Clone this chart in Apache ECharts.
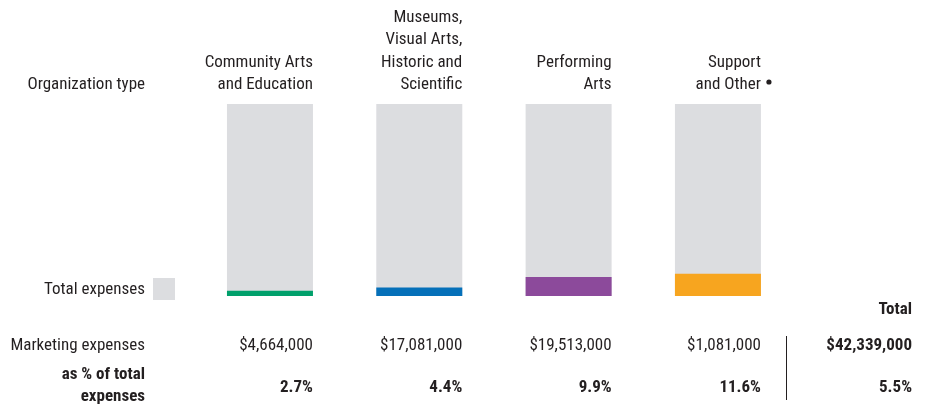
<!DOCTYPE html>
<html><head><meta charset="utf-8">
<script src="https://cdn.jsdelivr.net/npm/echarts@6/dist/echarts.min.js"></script>
<style>html,body{margin:0;padding:0;background:#fff}#c{width:929px;height:409px}</style>
</head><body><div id="c"></div>
<script>
const categories = ["Community Arts\nand Education", "Museums,\nVisual Arts,\nHistoric and\nScientific", "Performing\nArts", "Support\nand Other •"];
const totalShare = [100, 100, 100, 100];
const marketingPct = [2.7, 4.4, 9.9, 11.6];
const marketingExpenses = ["$4,664,000", "$17,081,000", "$19,513,000", "$1,081,000"];
const totalMarketing = "$42,339,000";
const totalPct = "5.5%";
const colors = ["#00a06b", "#0570b9", "#8c4a9b", "#f7a51f"];

const FONT = '"Liberation Sans Narrow", "Roboto Condensed", Roboto, sans-serif';
const FS = 17;
const TXT = '#231f20';
const chart = echarts.init(document.getElementById('c'));
const BW = 86;
chart.setOption({
  animation: false,
  grid: {left: 195.3, right: 136.4, top: 104, bottom: 113},
  xAxis: {type: 'category', data: categories, show: false},
  yAxis: {type: 'value', min: 0, max: 100, show: false},
  series: [
    {type: 'bar', data: totalShare, barWidth: BW, barGap: '-100%', itemStyle: {color: '#dcdde0'}},
    {type: 'bar', data: marketingPct.map((v, i) => ({value: v, itemStyle: {color: colors[i]}})), barWidth: BW}
  ]
});

const g = [];
const NF = FS + 'px ' + FONT, BF = 'bold ' + FS + 'px ' + FONT;
const txt = (x, y, s, opt) => g.push({type: 'text', x: x, y: y, style: Object.assign({text: s, font: NF, fill: TXT, textAlign: 'right', textVerticalAlign: 'middle'}, opt || {})});
const LX = 145;
txt(LX, 85, 'Organization type');
txt(LX, 290, 'Total expenses');
g.push({type: 'rect', shape: {x: 153, y: 278, width: 22, height: 22}, style: {fill: '#dcdde0'}});
txt(LX, 346, 'Marketing expenses');
txt(LX, 386, 'as % of total\nexpenses', {font: BF, lineHeight: 22});
categories.forEach((c, i) => {
  const p = chart.convertToPixel({seriesIndex: 0}, [i, 100]);
  const right = p[0] + BW / 2;
  let label = c;
  if (label.endsWith(' •')) {
    label = label.slice(0, -2);
    g.push({type: 'circle', shape: {cx: right + 8, cy: 82, r: 2.6}, style: {fill: TXT}});
  }
  txt(right, 96, label, {textVerticalAlign: 'bottom', lineHeight: 22.5});
  txt(right, 346, marketingExpenses[i]);
  txt(right, 388, marketingPct[i].toFixed(1) + '%', {font: BF});
});
const TX = 912;
txt(TX, 310, 'Total', {font: BF});
txt(TX, 346, totalMarketing, {font: BF});
txt(TX, 388, totalPct, {font: BF});
g.push({type: 'line', shape: {x1: 786.5, y1: 336, x2: 786.5, y2: 400}, style: {stroke: '#231f20', lineWidth: 1}});
chart.setOption({graphic: g});
</script></body></html>
